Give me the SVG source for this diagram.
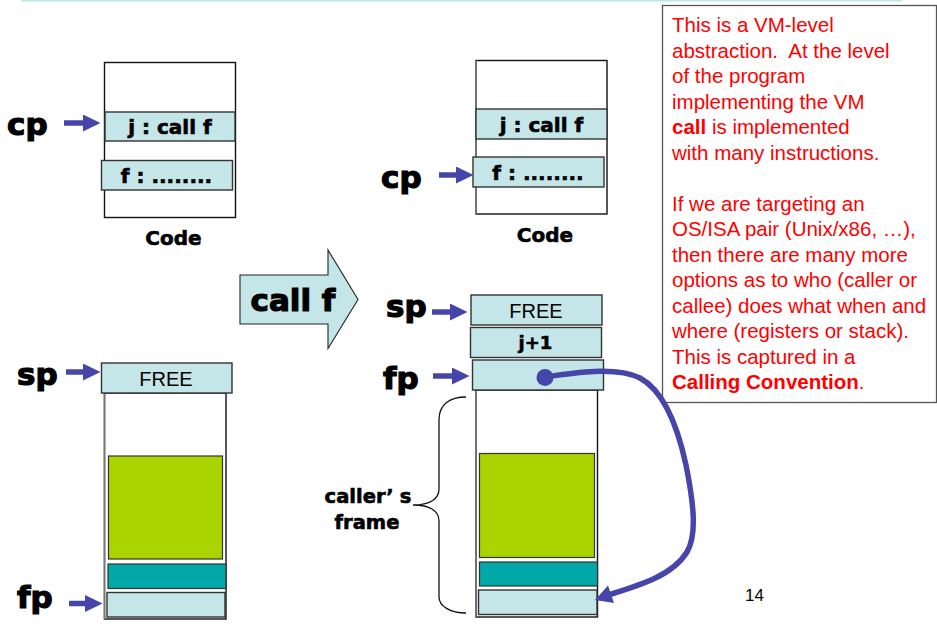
<svg xmlns="http://www.w3.org/2000/svg" width="937" height="635" viewBox="0 0 937 635">
  <defs>
    <style>
      .frame { fill: #ffffff; stroke: #111111; stroke-width: 1.4; }
      .edge { stroke: #777777; stroke-width: 1.6; fill: none; }
      .cell { fill: #c5e6e8; stroke: #333333; stroke-width: 1.4; }
      .green { fill: #aad400; stroke: #333333; stroke-width: 1.2; }
      .teal { fill: #00a8a8; stroke: #333333; stroke-width: 1.2; }
      .big { font-family: "DejaVu Sans", "Liberation Sans", sans-serif; font-weight: bold; font-size: 31px; fill: #000; stroke: #000; stroke-width: 1.2; }
      .bold { font-family: "DejaVu Sans", "Liberation Sans", sans-serif; font-weight: bold; font-size: 20px; fill: #000; stroke: #000; stroke-width: 0.6; }
      .plain { font-family: "Liberation Sans", Arial, sans-serif; font-size: 20px; fill: #000; }
      .note { font-family: "Liberation Sans", Arial, sans-serif; font-size: 20.5px; fill: #ff0000; }
      .ptr { stroke: #4646aa; stroke-width: 5.5; fill: none; }
      .mid { text-anchor: middle; }
    </style>
    <marker id="head" markerUnits="userSpaceOnUse" markerWidth="18" markerHeight="18" refX="0" refY="8.5" orient="auto">
      <path d="M0,0 L17.5,8.5 L0,17 z" fill="#4646aa"/>
    </marker>
  </defs>

  <!-- rule across the top -->
  <line x1="21" y1="0.8" x2="902" y2="0.8" stroke="#c0e6e6" stroke-width="1.6"/>

  <!-- code segment before the call -->
  <g id="code-before">
    <rect class="frame" x="104.5" y="62.5" width="131" height="155"/>
    <g id="code-before-j">
      <rect class="cell" x="105" y="112" width="130" height="29"/>
      <text class="bold mid" x="170" y="134">j : call f</text>
    </g>
    <g id="code-before-f">
      <rect class="cell" x="101.5" y="160.5" width="131" height="29.5"/>
      <text class="bold mid" x="166.5" y="182.5">f : ........</text>
    </g>
    <text class="bold mid" x="173.5" y="245">Code</text>
  </g>

  <!-- code segment after the call -->
  <g id="code-after">
    <rect class="frame" x="476" y="60.5" width="131" height="153.5"/>
    <line class="edge" x1="476" y1="60.5" x2="476" y2="214"/>
    <g id="code-after-j">
      <rect class="cell" x="476" y="109" width="131" height="30"/>
      <text class="bold mid" x="541.5" y="131.5">j : call f</text>
    </g>
    <g id="code-after-f">
      <rect class="cell" x="473" y="157" width="131" height="30"/>
      <text class="bold mid" x="538" y="179.5">f : ........</text>
    </g>
    <text class="bold mid" x="545" y="242">Code</text>
  </g>

  <!-- stack before the call -->
  <g id="stack-before">
    <rect class="frame" x="104.5" y="393" width="121.5" height="226"/>
    <line class="edge" x1="104.5" y1="393" x2="104.5" y2="619"/>
    <g id="stack-before-free">
      <rect class="cell" x="101.5" y="363" width="130.5" height="30"/>
      <text class="plain mid" x="166" y="385.5">FREE</text>
    </g>
    <rect id="stack-before-locals" class="green" x="108.5" y="456" width="114" height="103"/>
    <rect id="stack-before-args" class="teal" x="108" y="564" width="118" height="24.5"/>
    <rect id="stack-before-base" class="cell" x="107" y="592.5" width="118" height="24.5"/>
  </g>

  <!-- stack after the call -->
  <g id="stack-after">
    <rect class="frame" x="476" y="390" width="121.5" height="227"/>
    <line class="edge" x1="476" y1="390" x2="476" y2="617"/>
    <g id="stack-after-free">
      <rect class="cell" x="471" y="295" width="131" height="30"/>
      <text class="plain mid" x="536" y="317.5">FREE</text>
    </g>
    <g id="stack-after-ret">
      <rect class="cell" x="470.5" y="327.5" width="131" height="30"/>
      <text class="bold mid" x="535.5" y="349" style="font-size:18px">j+1</text>
    </g>
    <rect id="stack-after-link" class="cell" x="472.5" y="360" width="131" height="30"/>
    <rect id="stack-after-locals" class="green" x="479.5" y="453.5" width="115" height="104"/>
    <rect id="stack-after-args" class="teal" x="479.5" y="562" width="118" height="24"/>
    <rect id="stack-after-base" class="cell" x="478.5" y="590" width="118.5" height="24.5"/>
  </g>

  <!-- brace marking the caller's frame -->
  <g id="caller-frame">
    <path d="M466,397 C450,397 439,404 439,420 L439,489 C439,499 430,505 413,505 C430,505 439,511 439,521 L439,597 C439,606 450,613 466,613" fill="none" stroke="#111" stroke-width="1.3"/>
    <text class="bold mid" x="368" y="503" style="font-size:19.5px">caller’<tspan dx="6">s</tspan></text>
    <text class="bold mid" x="367" y="528.5" style="font-size:19.5px">frame</text>
  </g>

  <!-- block arrow for the transition -->
  <g id="call-transition">
    <polygon points="240,275 328,275 328,250 358,299.5 328,348.5 328,324 240,324" fill="#c5e6e8" stroke="#222" stroke-width="1.1"/>
    <text class="big" x="250.5" y="311">call f</text>
  </g>

  <!-- register names -->
  <g id="registers">
    <text class="big" x="7" y="135">cp</text>
    <text class="big" x="381" y="188">cp</text>
    <text class="big" x="17" y="385">sp</text>
    <text class="big" x="17" y="608">fp</text>
    <text class="big" x="386" y="317">sp</text>
    <text class="big" x="383" y="388.5">fp</text>
  </g>

  <!-- note on calling conventions -->
  <g id="note">
    <rect x="662.5" y="5.5" width="274" height="397" fill="#fff" stroke="#555" stroke-width="1.3"/>
    <text class="note" x="672">
      <tspan x="672" y="32">This is a VM-level</tspan>
      <tspan x="672" y="57.5">abstraction.&#160; At the level</tspan>
      <tspan x="672" y="83">of the program</tspan>
      <tspan x="672" y="108.5">implementing the VM</tspan>
      <tspan x="672" y="134"><tspan font-weight="bold">call</tspan> is implemented</tspan>
      <tspan x="672" y="159.5">with many instructions.</tspan>
      <tspan x="672" y="210.5">If we are targeting an</tspan>
      <tspan x="672" y="236">OS/ISA pair (Unix/x86, …),</tspan>
      <tspan x="672" y="261.5">then there are many more</tspan>
      <tspan x="672" y="287">options as to who (caller or</tspan>
      <tspan x="672" y="312.5">callee) does what when and</tspan>
      <tspan x="672" y="338">where (registers or stack).</tspan>
      <tspan x="672" y="363.5">This is captured in a</tspan>
      <tspan x="672" y="389"><tspan font-weight="bold">Calling Convention</tspan>.</tspan>
    </text>
  </g>

  <!-- pointers -->
  <g id="connectors">
    <line class="ptr" x1="64" y1="123" x2="83" y2="123" marker-end="url(#head)"/>
    <line class="ptr" x1="439" y1="175" x2="456" y2="175" marker-end="url(#head)"/>
    <line class="ptr" x1="66" y1="372" x2="83" y2="372" marker-end="url(#head)"/>
    <line class="ptr" x1="69" y1="603.5" x2="85" y2="603.5" marker-end="url(#head)"/>
    <line class="ptr" x1="432" y1="312" x2="450" y2="312" marker-end="url(#head)"/>
    <line class="ptr" x1="433" y1="376" x2="452" y2="376" marker-end="url(#head)"/>
    <!-- saved frame pointer link -->
    <circle cx="545" cy="377.5" r="8.5" fill="#4646aa"/>
    <path class="ptr" d="M545,377 C575,373 615,366 640,378 C664,391 678,428 686,465 C694,505 697,535 687,552 C673,575 641,585 610,594.5"/>
    <polygon points="595,600 608,585.5 614,603" fill="#4646aa"/>
  </g>

  <text x="745" y="600.5" font-family="Liberation Sans, Arial, sans-serif" font-size="17" fill="#000">14</text>
</svg>
